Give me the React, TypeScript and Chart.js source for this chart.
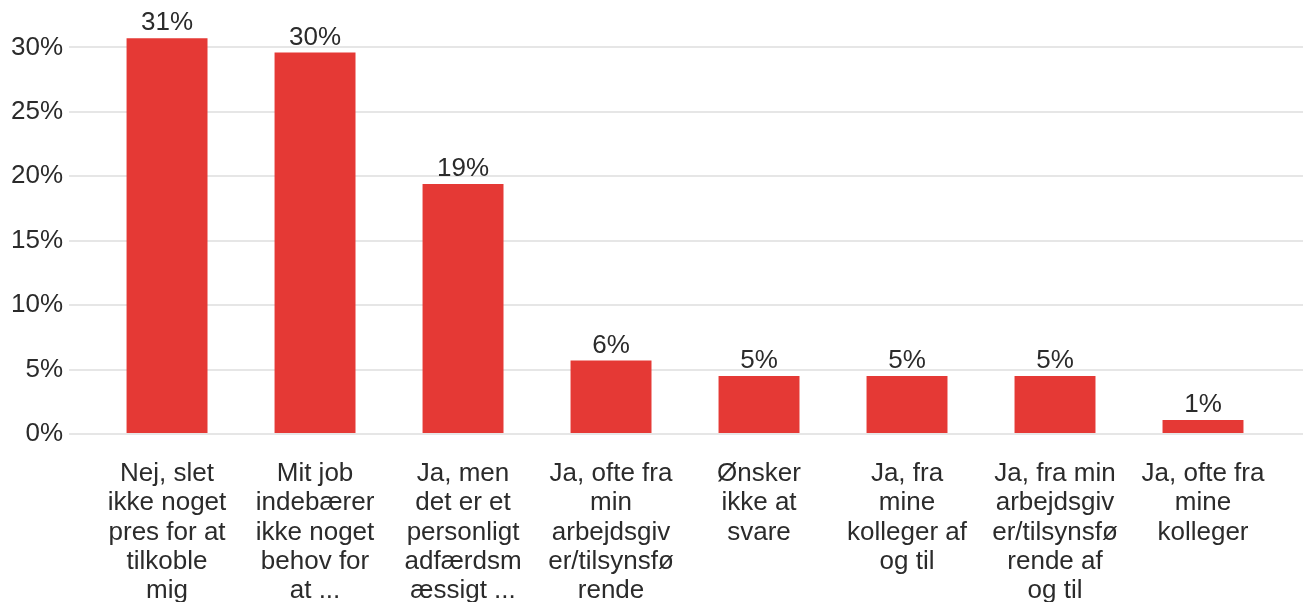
import React, { useEffect, useRef } from "react";
import { Chart, registerables } from "chart.js";

Chart.register(...registerables);

const categories: string[][] = [
  ["Nej, slet", "ikke noget", "pres for at", "tilkoble", "mig"],
  ["Mit job", "indebærer", "ikke noget", "behov for", "at ..."],
  ["Ja, men", "det er et", "personligt", "adfærdsm", "æssigt ..."],
  ["Ja, ofte fra", "min", "arbejdsgiv", "er/tilsynsfø", "rende"],
  ["Ønsker", "ikke at", "svare"],
  ["Ja, fra", "mine", "kolleger af", "og til"],
  ["Ja, fra min", "arbejdsgiv", "er/tilsynsfø", "rende af", "og til"],
  ["Ja, ofte fra", "mine", "kolleger"],
];
const values: number[] = [30.7, 29.6, 19.4, 5.7, 4.5, 4.5, 4.5, 1.1];
const valueLabels: string[] = ["31%", "30%", "19%", "6%", "5%", "5%", "5%", "1%"];
const yTickStep = 5;
const yMax = 32;

const FONT = "'Liberation Sans', Arial, sans-serif";
const TEXT = "#2b2b2b";
const GRID = "#e6e6e6";
const BAR = "#e53935";

const valueLabelPlugin = {
  id: "valueLabels",
  afterDatasetsDraw(chart: any) {
    const ctx = chart.ctx;
    const meta = chart.getDatasetMeta(0);
    ctx.save();
    ctx.font = `26px ${FONT}`;
    ctx.fillStyle = TEXT;
    ctx.textAlign = "center";
    ctx.textBaseline = "alphabetic";
    meta.data.forEach((bar: any, i: number) => {
      ctx.fillText(valueLabels[i], bar.x, bar.y - 8);
    });
    ctx.restore();
  },
};

export default function App() {
  const ref = useRef<HTMLCanvasElement | null>(null);
  useEffect(() => {
    if (!ref.current) return;
    const chart = new Chart(ref.current, {
      type: "bar",
      data: {
        labels: categories,
        datasets: [
          {
            data: values,
            backgroundColor: BAR,
            borderWidth: 0,
            categoryPercentage: 1,
            barPercentage: 0.547,
          },
        ],
      },
      options: {
        animation: false,
        responsive: false,
        maintainAspectRatio: false,
        layout: { padding: { left: 5, right: 0, top: 21, bottom: 0 } },
        plugins: { legend: { display: false }, tooltip: { enabled: false } },
        scales: {
          x: {
            grid: { display: false },
            border: { display: false },
            ticks: {
              color: TEXT,
              font: { family: FONT, size: 26, lineHeight: 1.13 },
              padding: 17,
              maxRotation: 0,
              autoSkip: false,
            },
          },
          y: {
            min: 0,
            max: yMax,
            grid: { color: GRID, lineWidth: 2, tickLength: 24, drawTicks: true },
            border: { display: false },
            ticks: {
              stepSize: yTickStep,
              includeBounds: false,
              padding: 6,
              color: TEXT,
              font: { family: FONT, size: 26 },
              callback: (v: any) => `${v}%`,
            },
          },
          y2: {
            position: "right",
            min: 0,
            max: yMax,
            grid: { color: GRID, lineWidth: 2, tickLength: 26, drawTicks: true, drawOnChartArea: false },
            border: { display: false },
            ticks: { display: false, stepSize: yTickStep, includeBounds: false },
          },
        },
      },
      plugins: [valueLabelPlugin],
    });
    return () => chart.destroy();
  }, []);
  return (
    <div style={{ position: "absolute", left: 0, top: 0, width: 1303, height: 602, overflow: "hidden", background: "#fff" }}>
      <canvas ref={ref} width={1303} height={623} style={{ display: "block" }} />
    </div>
  );
}
